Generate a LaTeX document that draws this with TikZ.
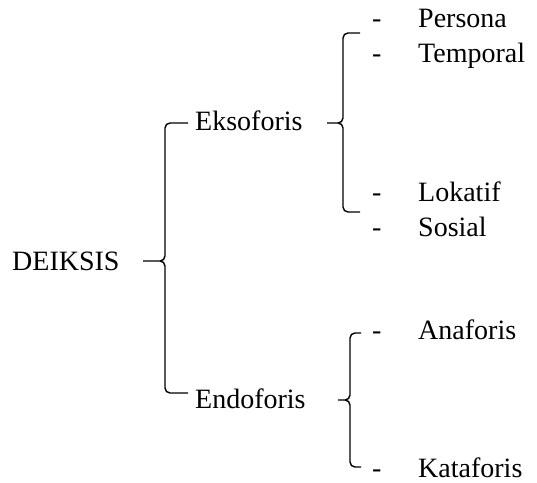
\documentclass[tikz,border=0pt]{standalone}
\usepackage{fontspec}
\setmainfont{Liberation Serif}
\newcommand\mybrace[6]{% #1 x, #2 top, #3 tip y, #4 bottom, #5 tip left x, #6 hook right x
  \draw[br] (#6,#2) -- ({#1+5},#2) to[out=180,in=90] (#1,{#2+5}) -- (#1,{#3-5})
    to[out=-90,in=0] ({#1-5},#3) -- (#5,#3);
  \draw[br] ({#1-5},#3) to[out=0,in=90] (#1,{#3+5}) -- (#1,{#4-5})
    to[out=-90,in=180] ({#1+5},#4) -- (#6,#4);
}
\begin{document}
\begin{tikzpicture}[x=1pt,y=-1pt,
  lbl/.style={anchor=base west,inner sep=0pt,font=\fontsize{28}{34}\selectfont},
  br/.style={line width=1.4pt,line join=round}]
\useasboundingbox (0,0) rectangle (537,482);
% main labels
\node[lbl] (dk) at (12,270) {DEIKSIS};
\node[lbl] (ek) at (195,130) {Eksoforis};
\node[lbl] (en) at (195,408) {Endoforis};
% items
\node[lbl] (d1) at (372,27) {-};
\node[lbl] (persona) at (418,27) {Persona};
\node[lbl] (d2) at (372,62) {-};
\node[lbl] (temporal) at (418,62) {Temporal};
\node[lbl] (d3) at (372,201) {-};
\node[lbl] (lokatif) at (418,201) {Lokatif};
\node[lbl] (d4) at (372,236) {-};
\node[lbl] (sosial) at (418,236) {Sosial};
\node[lbl] (d5) at (372,339) {-};
\node[lbl] (anaforis) at (418,339) {Anaforis};
\node[lbl] (d6) at (372,477) {-};
\node[lbl] (kataforis) at (418,477) {Kataforis};
% braces
\mybrace{165}{123}{261}{393}{143}{188}
\mybrace{343}{33}{123}{212}{327}{360}
\mybrace{350}{333}{400}{467}{338}{361}
\end{tikzpicture}
\end{document}
